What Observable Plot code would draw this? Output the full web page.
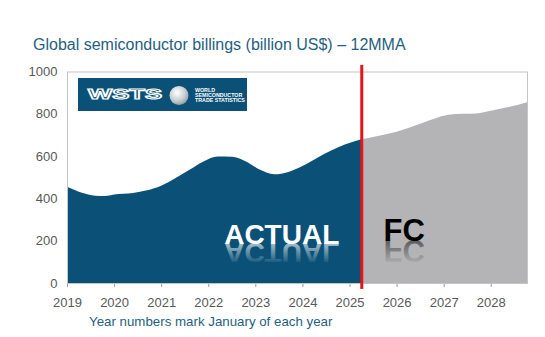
<!DOCTYPE html>
<html><head><meta charset="utf-8">
<script src="https://cdn.jsdelivr.net/npm/d3@7"></script>
<script src="https://cdn.jsdelivr.net/npm/@observablehq/plot@0.6"></script>
<style>
body{margin:0;background:#fff;font-family:"Liberation Sans",Arial,sans-serif;}
#wrap{position:relative;width:545px;height:337px;overflow:hidden;background:#fff;}
#title{position:absolute;left:33px;top:36.5px;font-size:16px;line-height:1;color:#1f5f7f;white-space:nowrap;}
#chart{position:absolute;left:0;top:55px;}
#caption{position:absolute;left:89px;top:314.5px;font-size:13.3px;line-height:1;color:#1f5f7f;white-space:nowrap;}
#logo{position:absolute;left:78px;top:78px;width:169px;height:33px;background:#0b5177;}
#logo svg{display:block;}
#dbg{position:absolute;left:0;top:0;font-size:8px;color:#c00;white-space:pre;}
</style></head><body>
<div id="wrap">
<div id="title">Global semiconductor billings (billion US$) – 12MMA</div>
<div id="chart"></div>
<div id="logo"><svg width="169" height="33" font-family="Liberation Sans, Arial, sans-serif">
<defs><radialGradient id="globe" cx="0.4" cy="0.35" r="0.7"><stop offset="0" stop-color="#ffffff"/><stop offset="0.6" stop-color="#c9ced3"/><stop offset="1" stop-color="#8f989f"/></radialGradient></defs>
<text x="10" y="21" font-size="14" font-weight="bold" fill="none" stroke="#fff" stroke-width="1.1" textLength="74" lengthAdjust="spacingAndGlyphs">WSTS</text>
<circle cx="101" cy="17.5" r="9.5" fill="url(#globe)"/>
<g fill="#fff" font-size="5.3" font-weight="bold">
<text x="117" y="14">WORLD</text>
<text x="117" y="18.8">SEMICONDUCTOR</text>
<text x="117" y="23.6">TRADE STATISTICS</text>
</g>
</svg></div>
<div id="caption">Year numbers mark January of each year</div>
<div id="dbg"></div>
</div>
<script>
// Data (decimal years, billion US$ 12MMA)
const actualYears  = [2019.0, 2019.3, 2019.6, 2019.8, 2020.0, 2020.4, 2020.7, 2021.0, 2021.3, 2021.6, 2021.9, 2022.2, 2022.5, 2022.8, 2023.1, 2023.4, 2023.7, 2024.0, 2024.3, 2024.6, 2024.9, 2025.25];
const actualValues = [455, 428, 413, 411, 418, 425, 438, 460, 495, 535, 575, 598, 597, 575, 535, 514, 525, 553, 590, 625, 655, 680];
const forecastYears  = [2025.25, 2025.6, 2026.0, 2026.4, 2026.8, 2027.1, 2027.4, 2027.7, 2028.0, 2028.4, 2028.77];
const forecastValues = [680, 695, 715, 745, 777, 795, 800, 802, 815, 833, 855];
const yearTicks = [2019, 2020, 2021, 2022, 2023, 2024, 2025, 2026, 2027, 2028];
const valueTicks = [0, 200, 400, 600, 800, 1000];
const splitYear = [2025.25];
const labelText = ["ACTUAL", "FC"];
const labelYear = [2023.55, 2026.15];
const labelValue = [189, 200];

const actual = actualYears.map((x, i) => ({x, y: actualValues[i]}));
const forecast = forecastYears.map((x, i) => ({x, y: forecastValues[i]}));
const labels = labelText.map((t, i) => ({t, x: labelYear[i], y: labelValue[i]}));
const labelA = labels.slice(0, 1), labelF = labels.slice(1, 2);

const plot = Plot.plot({
  width: 545, height: 260,
  marginLeft: 67, marginRight: 18, marginTop: 16.5, marginBottom: 32,
  style: {fontFamily: "Liberation Sans, Arial, sans-serif", fontSize: "13px", color: "#595959", background: "transparent"},
  x: {domain: [2019, 2028.77], ticks: yearTicks, tickFormat: d => String(d), label: null, tickSize: 4, tickPadding: 10},
  y: {domain: [0, 1000], ticks: valueTicks, tickFormat: d => String(d), label: null, tickSize: 0, tickPadding: 10},
  marks: [
    Plot.areaY(actual, {x: "x", y: "y", fill: "#0b5177", curve: "monotone-x"}),
    Plot.areaY(forecast, {x: "x", y: "y", fill: "#b4b4b6", curve: "monotone-x"}),
    Plot.frame({stroke: "#c4c4c4"}),
    Plot.text(labelA, {x: "x", y: "y", text: "t", fill: "white", fontSize: 28, fontWeight: "bold", lineAnchor: "bottom", textAnchor: "middle"}),
    Plot.text(labelA, {x: "x", y: "y", text: "t", fill: "white", fontSize: 28, fontWeight: "bold", lineAnchor: "bottom", textAnchor: "middle", ariaDescription: "reflectW"}),
    Plot.text(labelF, {x: "x", y: "y", text: "t", fill: "black", fontSize: 31, fontWeight: "bold", lineAnchor: "bottom", textAnchor: "middle"}),
    Plot.text(labelF, {x: "x", y: "y", text: "t", fill: "black", fontSize: 31, fontWeight: "bold", lineAnchor: "bottom", textAnchor: "middle", ariaDescription: "reflectK"}),
    Plot.ruleX(splitYear, {y1: -28, y2: 1031, stroke: "#e3141b", strokeWidth: 3, clip: false})
  ]
});

const svg = d3.select(plot);
const defs = svg.insert("defs", ":first-child");
function grad(id, color, op) {
  const g = defs.append("linearGradient").attr("id", id).attr("x1", 0).attr("y1", 0).attr("x2", 0).attr("y2", 1);
  g.append("stop").attr("offset", 0.1).attr("stop-color", color).attr("stop-opacity", 0);
  g.append("stop").attr("offset", 0.8).attr("stop-color", color).attr("stop-opacity", op);
}
grad("gW", "#ffffff", 0.65);
grad("gK", "#000000", 0.5);
const ys = plot.scale("y");
const textGroups = svg.selectAll('g[aria-label="text"]').nodes();
let dbg = "";
[["reflectW", "gW", labelA[0].y, 1], ["reflectK", "gK", labelF[0].y, 3]].forEach(([lab, g, v, idx]) => {
  let grp = svg.select(`g[aria-description="${lab}"]`);
  if (grp.empty() && textGroups[idx]) grp = d3.select(textGroups[idx]);
  if (grp.empty()) { dbg += lab + " missing\n"; return; }
  const Yb = ys.apply(v);
  const old = grp.attr("transform") || "";
  grp.attr("transform", `translate(0,${2 * Yb}) scale(1,-1) ${old}`);
  grp.attr("fill", `url(#${g})`);
  grp.selectAll("text").attr("fill", `url(#${g})`);
});
svg.selectAll('g[aria-label="x-axis tick"] path, g[aria-label="x-axis tick"] line').attr("stroke", "#9a9a9a");
document.getElementById("chart").appendChild(plot);
document.getElementById("dbg").textContent = dbg;
</script>
</body></html>
